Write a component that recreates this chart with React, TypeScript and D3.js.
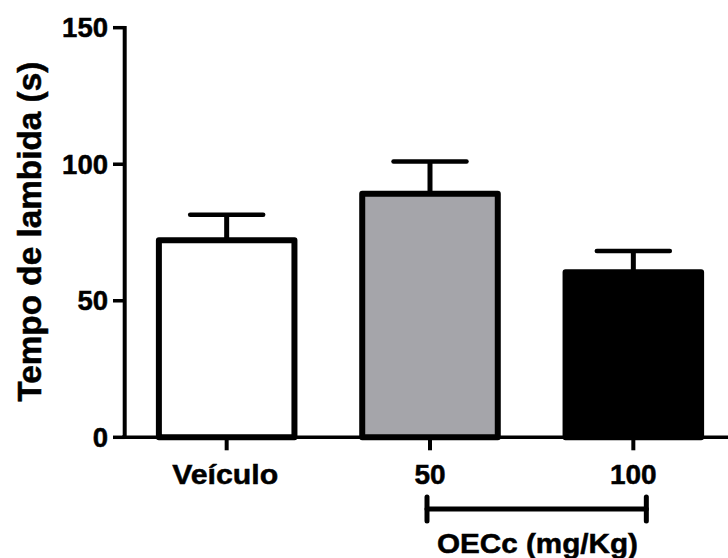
import React from "react";
import * as d3 from "d3";

const categories = ["Veículo", "50", "100"];
const means = [72.2, 89.2, 60.4];
const sems = [9.3, 11.8, 7.8];
const fills = ["#ffffff", "#a5a5aa", "#000000"];
const yTicks = [0, 50, 100, 150];

export default function App() {
  const W = 728;
  const H = 558;
  const y = d3.scaleLinear().domain([0, 150]).range([437.3, 27.7]);
  const x = d3
    .scaleBand<string>()
    .domain(categories)
    .range([125, 735])
    .paddingInner(1 / 3)
    .paddingOuter(1 / 6);
  const axisX = 124.7;
  const y0 = y(0);
  const font = "'Liberation Sans', Arial, sans-serif";
  const bw = x.bandwidth();
  const b1 = (x("50") as number) + bw / 2;
  const b2 = (x("100") as number) + bw / 2;
  const txtStroke = { stroke: "#000", strokeWidth: 0.5 };

  return (
    <svg
      width={W}
      height={H}
      style={{ position: "absolute", left: 0, top: 0, background: "#fff" }}
      fontFamily={font}
      fontWeight="bold"
    >
      {categories.map((c, i) => {
        const bx = x(c) as number;
        const top = y(means[i]);
        return (
          <rect
            key={c}
            x={bx}
            y={top}
            width={bw}
            height={y0 - top}
            fill={fills[i]}
            stroke="#000"
            strokeWidth={6}
            strokeLinejoin="round"
          />
        );
      })}
      {categories.map((c, i) => {
        const cx = (x(c) as number) + bw / 2;
        const top = y(means[i]);
        const et = y(means[i] + sems[i]);
        return (
          <g key={"e" + c} stroke="#000">
            <line x1={cx} x2={cx} y1={top} y2={et} strokeWidth={5} />
            <line
              x1={cx - 36.5}
              x2={cx + 36.5}
              y1={et}
              y2={et}
              strokeWidth={4.5}
              strokeLinecap="round"
            />
          </g>
        );
      })}
      <line x1={122} x2={W} y1={y0} y2={y0} stroke="#000" strokeWidth={3.5} />
      <line
        x1={axisX}
        x2={axisX}
        y1={y(150) - 1.7}
        y2={y0 + 1.7}
        stroke="#000"
        strokeWidth={4}
      />
      {yTicks.map((t) => (
        <g key={"yt" + t}>
          <line x1={113} x2={axisX} y1={y(t)} y2={y(t)} stroke="#000" strokeWidth={3.5} />
          <text x={108} y={y(t) + 9.7} textAnchor="end" fontSize={27.5} {...txtStroke}>
            {t}
          </text>
        </g>
      ))}
      {categories.map((c, i) => {
        const cx = (x(c) as number) + bw / 2;
        return (
          <g key={"xt" + c}>
            <line x1={cx} x2={cx} y1={y0} y2={y0 + 13} stroke="#000" strokeWidth={4} />
            <text
              x={i === 0 ? cx - 1.5 : cx}
              y={484}
              textAnchor="middle"
              fontSize={28}
              {...txtStroke}
              {...(i === 0 ? { textLength: 106, lengthAdjust: "spacingAndGlyphs" } : {})}
            >
              {c}
            </text>
          </g>
        );
      })}
      <g stroke="#000" strokeLinecap="round">
        <line x1={b1 - 3} x2={b2 + 13} y1={509} y2={509} strokeWidth={5} />
        <line x1={b1 - 3} x2={b1 - 3} y1={497} y2={521} strokeWidth={5} />
        <line x1={b2 + 13} x2={b2 + 13} y1={497} y2={521} strokeWidth={5} />
      </g>
      <text
        x={537.5}
        y={552.5}
        textAnchor="middle"
        fontSize={28}
        textLength={201}
        lengthAdjust="spacingAndGlyphs"
        {...txtStroke}
      >
        OECc (mg/Kg)
      </text>
      <text
        transform="translate(41,231.7) rotate(-90)"
        textAnchor="middle"
        fontSize={33}
        textLength={340}
        lengthAdjust="spacingAndGlyphs"
        {...txtStroke}
      >
        Tempo de lambida (s)
      </text>
    </svg>
  );
}
